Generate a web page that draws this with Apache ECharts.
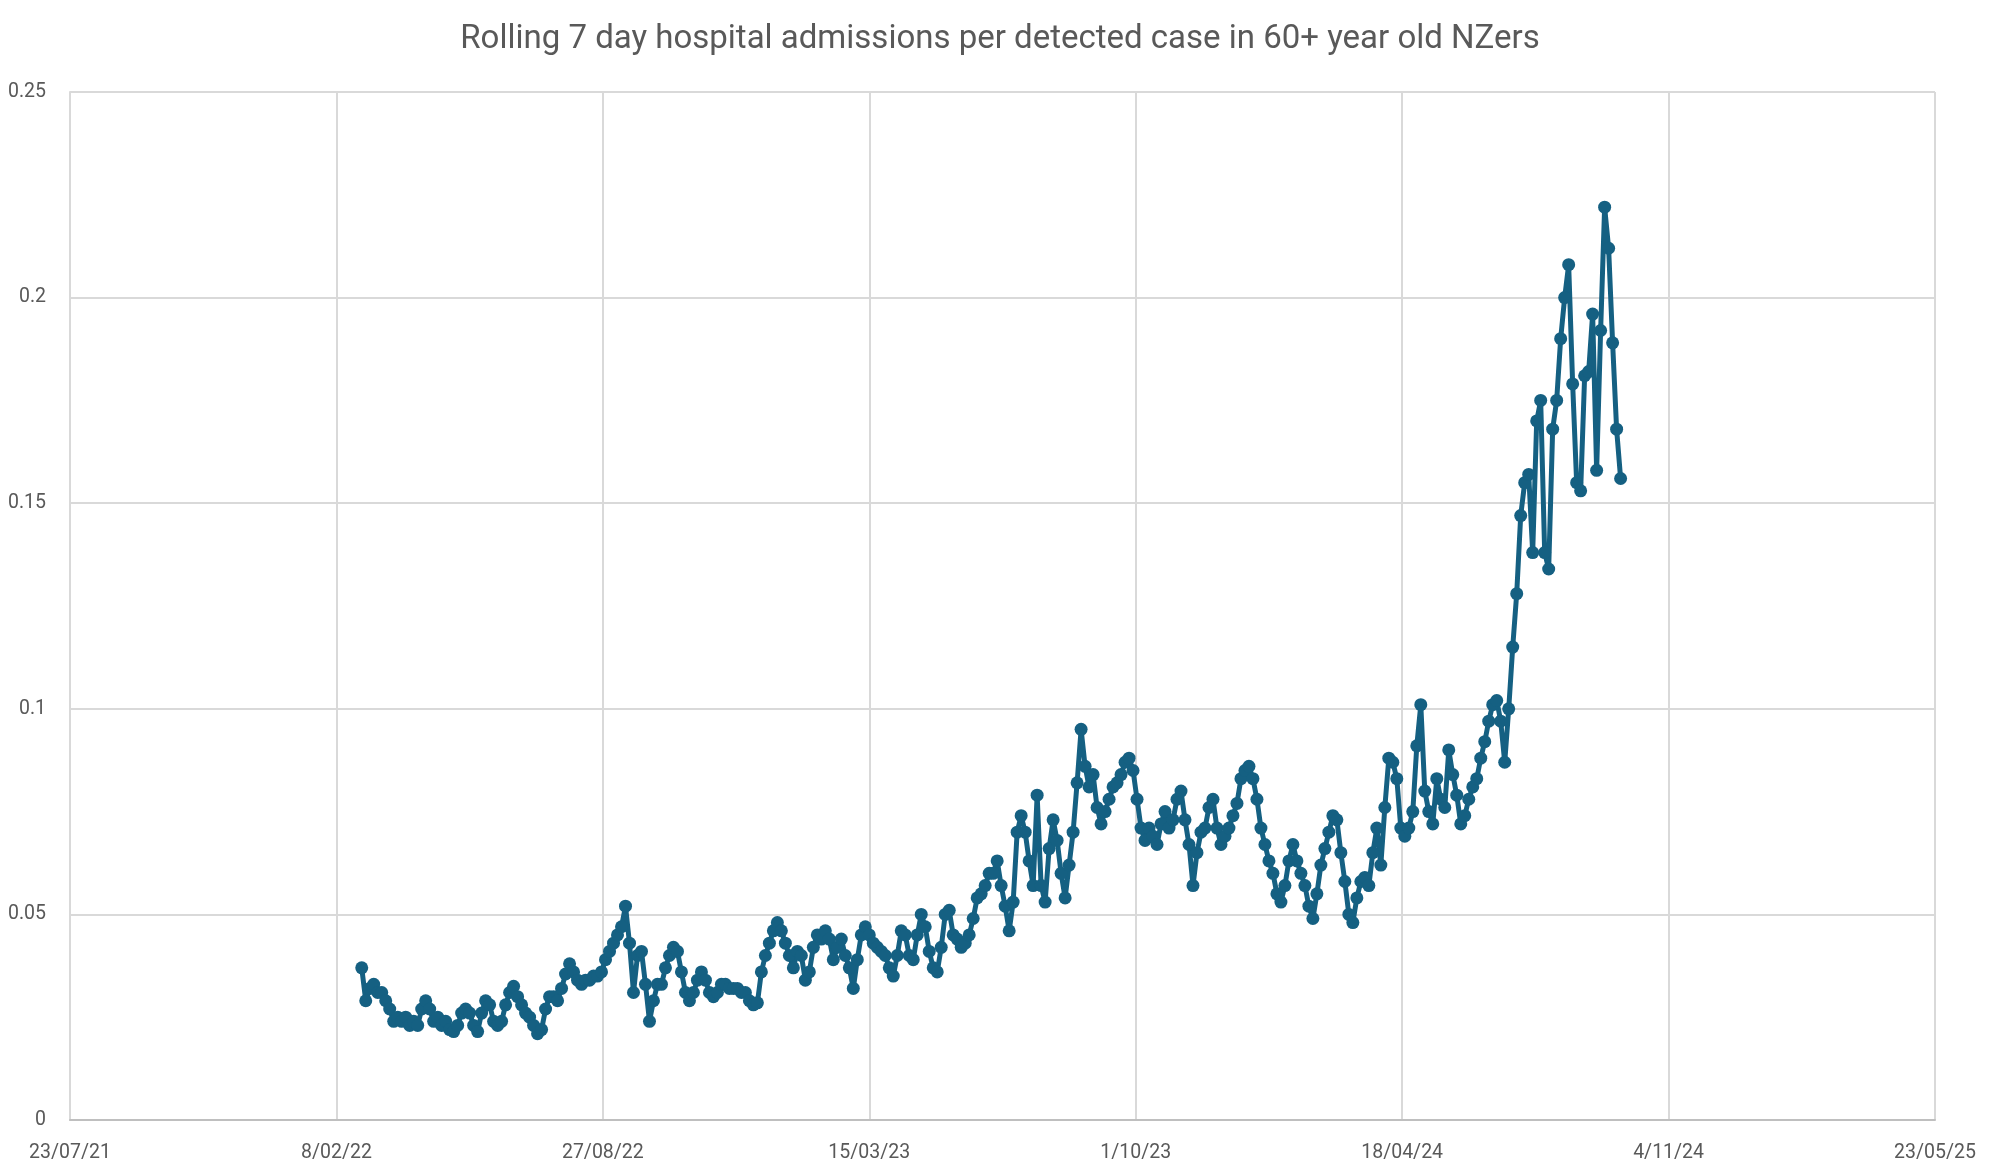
<!DOCTYPE html>
<html><head><meta charset="utf-8">
<script src="https://cdn.jsdelivr.net/npm/echarts@6/dist/echarts.min.js"></script>
<style>html,body{margin:0;padding:0;background:#fff;}#chart{width:2000px;height:1175px;}</style>
</head><body><div id="chart"></div>
<script>
const chartTitle = 'Rolling 7 day hospital admissions per detected case in 60+ year old NZers';
// x values are Excel-style day serials (44400 = 23/07/2021)
const firstDaySerial = 44619; // 27/02/2022
const dayStep = 3;
const admissionsPerCase = [
0.037,0.029,0.032,0.033,0.031,0.031,0.029,0.027,0.024,0.025,
0.024,0.025,0.023,0.024,0.023,0.027,0.029,0.027,0.024,0.025,
0.023,0.024,0.022,0.0215,0.023,0.026,0.027,0.026,0.023,0.0215,
0.026,0.029,0.028,0.024,0.023,0.024,0.028,0.031,0.0325,0.030,
0.028,0.026,0.025,0.023,0.021,0.022,0.027,0.030,0.030,0.029,
0.032,0.0355,0.038,0.036,0.034,0.033,0.034,0.034,0.035,0.035,
0.036,0.039,0.041,0.043,0.045,0.047,0.052,0.043,0.031,0.040,
0.041,0.033,0.024,0.029,0.033,0.033,0.037,0.040,0.042,0.041,
0.036,0.031,0.029,0.031,0.034,0.036,0.034,0.031,0.030,0.031,
0.033,0.033,0.032,0.032,0.032,0.031,0.031,0.029,0.028,0.0285,
0.036,0.040,0.043,0.046,0.048,0.046,0.043,0.040,0.037,0.041,
0.040,0.034,0.036,0.042,0.045,0.044,0.046,0.044,0.039,0.042,
0.044,0.040,0.037,0.032,0.039,0.045,0.047,0.045,0.043,0.042,
0.041,0.040,0.037,0.035,0.040,0.046,0.045,0.040,0.039,0.045,
0.050,0.047,0.041,0.037,0.036,0.042,0.050,0.051,0.045,0.044,
0.042,0.043,0.045,0.049,0.054,0.055,0.057,0.060,0.060,0.063,
0.057,0.052,0.046,0.053,0.070,0.074,0.070,0.063,0.057,0.079,
0.057,0.053,0.066,0.073,0.068,0.060,0.054,0.062,0.070,0.082,
0.095,0.086,0.081,0.084,0.076,0.072,0.075,0.078,0.081,0.082,
0.084,0.087,0.088,0.085,0.078,0.071,0.068,0.071,0.069,0.067,
0.072,0.075,0.071,0.073,0.078,0.080,0.073,0.067,0.057,0.065,
0.070,0.071,0.076,0.078,0.071,0.067,0.069,0.071,0.074,0.077,
0.083,0.085,0.086,0.083,0.078,0.071,0.067,0.063,0.060,0.055,
0.053,0.057,0.063,0.067,0.063,0.060,0.057,0.052,0.049,0.055,
0.062,0.066,0.070,0.074,0.073,0.065,0.058,0.050,0.048,0.054,
0.058,0.059,0.057,0.065,0.071,0.062,0.076,0.088,0.087,0.083,
0.071,0.069,0.071,0.075,0.091,0.101,0.080,0.075,0.072,0.083,
0.078,0.076,0.090,0.084,0.079,0.072,0.074,0.078,0.081,0.083,
0.088,0.092,0.097,0.101,0.102,0.097,0.087,0.100,0.115,0.128,
0.147,0.155,0.157,0.138,0.170,0.175,0.138,0.134,0.168,0.175,
0.190,0.200,0.208,0.179,0.155,0.153,0.181,0.182,0.196,0.158,
0.192,0.222,0.212,0.189,0.168,0.156
];
const xTickLabels = ['23/07/21','8/02/22','27/08/22','15/03/23','1/10/23','18/04/24','4/11/24','23/05/25'];
const xMinSerial = 44400, xStepDays = 200;
const yTickLabels = ['0','0.05','0.1','0.15','0.2','0.25'];

const seriesData = admissionsPerCase.map((v, i) => [firstDaySerial + i * dayStep, v]);
const labelColor = '#595959';
const chart = echarts.init(document.getElementById('chart'), null, {renderer: 'canvas'});
chart.setOption({
  animation: false,
  backgroundColor: '#ffffff',
  title: {
    text: chartTitle, left: 'center', top: 18,
    textStyle: {color: labelColor, fontSize: 33, fontWeight: 'normal', fontFamily: 'Roboto'}
  },
  grid: {left: 70, right: 65, top: 92, bottom: 55, containLabel: false},
  xAxis: {
    type: 'value', min: xMinSerial, max: xMinSerial + xStepDays * (xTickLabels.length - 1), interval: xStepDays,
    axisLine: {show: true, lineStyle: {color: '#bfbfbf', width: 2}},
    axisTick: {show: false},
    splitLine: {show: true, lineStyle: {color: '#d9d9d9', width: 2}},
    axisLabel: {
      color: labelColor, fontSize: 19.5, fontFamily: 'Roboto', margin: 23,
      formatter: v => xTickLabels[Math.round((v - xMinSerial) / xStepDays)] || ''
    }
  },
  yAxis: {
    type: 'value', min: 0, max: 0.25, interval: 0.05,
    axisLine: {show: true, lineStyle: {color: '#d9d9d9', width: 2}},
    axisTick: {show: false},
    splitLine: {show: true, lineStyle: {color: '#d9d9d9', width: 2}},
    axisLabel: {
      color: labelColor, fontSize: 19.5, fontFamily: 'Roboto', margin: 24,
      formatter: v => yTickLabels[Math.round(v / 0.05)] || ''
    }
  },
  series: [{
    type: 'line', data: seriesData,
    symbol: 'circle', symbolSize: 13, showSymbol: true, showAllSymbol: true,
    lineStyle: {color: '#156082', width: 5},
    itemStyle: {color: '#156082'},
    emphasis: {disabled: true}
  }]
});
</script></body></html>
